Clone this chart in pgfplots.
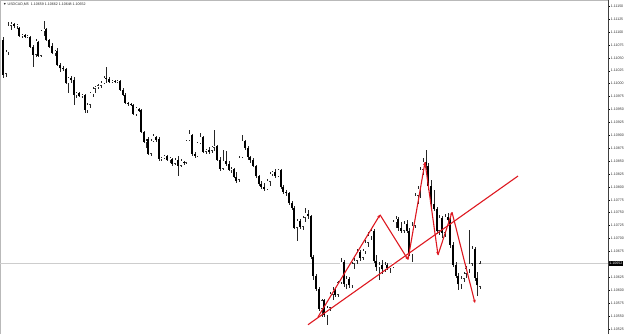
\documentclass[border=0pt]{standalone}
\usepackage{fontspec}
\setmainfont{Liberation Sans}
\usepackage{pgfplots}
\pgfplotsset{compat=1.18}
\usepackage{pgfplotstable}
\usetikzlibrary{arrows.meta}
\definecolor{mtred}{RGB}{222,24,32}
\definecolor{bidgray}{RGB}{205,205,205}

\pgfplotstableread{
x o h l c
3 1.11085 1.11090 1.11011 1.11017
6 1.11019 1.11065 1.11013 1.11061
8 1.11061 1.11119 1.11056 1.11112
11 1.11112 1.11119 1.11104 1.11116
14 1.11116 1.11117 1.11108 1.11112
17 1.11112 1.11116 1.11106 1.11114
19 1.11108 1.11110 1.11090 1.11092
22 1.11092 1.11096 1.11088 1.11094
25 1.11094 1.11096 1.11088 1.11090
27 1.11090 1.11094 1.11088 1.11092
30 1.11090 1.11092 1.11069 1.11071
33 1.11071 1.11075 1.11032 1.11056
36 1.11056 1.11087 1.11052 1.11083
38 1.11081 1.11083 1.11052 1.11054
41 1.11054 1.11104 1.11052 1.11102
44 1.11102 1.11121 1.11092 1.11106
46 1.11106 1.11108 1.11083 1.11085
49 1.11085 1.11087 1.11069 1.11071
52 1.11073 1.11079 1.11057 1.11059
55 1.11059 1.11065 1.11054 1.11063
57 1.11063 1.11069 1.11034 1.11036
60 1.11036 1.11040 1.11023 1.11030
63 1.11030 1.11034 1.11025 1.11029
66 1.11029 1.11030 1.10999 1.11001
68 1.11001 1.11013 1.10982 1.11011
71 1.11011 1.11015 1.11001 1.11007
74 1.11007 1.11013 1.10959 1.10978
76 1.10978 1.10984 1.10972 1.10982
79 1.10982 1.10984 1.10974 1.10976
82 1.10976 1.10980 1.10972 1.10978
85 1.10978 1.10980 1.10943 1.10949
87 1.10949 1.10963 1.10943 1.10959
90 1.10959 1.10984 1.10953 1.10982
93 1.10980 1.10994 1.10974 1.10990
95 1.10990 1.10996 1.10982 1.10994
98 1.10994 1.10999 1.10990 1.10997
101 1.10996 1.11005 1.10992 1.11001
104 1.11001 1.11015 1.10999 1.11011
106 1.11011 1.11032 1.11001 1.11009
109 1.11009 1.11013 1.11001 1.11003
112 1.11003 1.11007 1.11001 1.11005
115 1.11005 1.11007 1.11001 1.11003
117 1.11003 1.11007 1.11001 1.11005
120 1.11005 1.11007 1.10986 1.10988
123 1.10988 1.10992 1.10976 1.10978
125 1.10978 1.10982 1.10961 1.10963
128 1.10963 1.10965 1.10957 1.10961
131 1.10961 1.10963 1.10957 1.10959
133 1.10959 1.10961 1.10939 1.10941
136 1.10941 1.10955 1.10938 1.10953
139 1.10951 1.10953 1.10945 1.10947
141 1.10949 1.10951 1.10905 1.10907
144 1.10907 1.10909 1.10885 1.10887
146 1.10887 1.10893 1.10876 1.10889
148 1.10893 1.10897 1.10862 1.10864
151 1.10864 1.10893 1.10860 1.10889
153 1.10889 1.10903 1.10887 1.10899
156 1.10897 1.10899 1.10887 1.10891
159 1.10893 1.10897 1.10850 1.10854
161 1.10854 1.10858 1.10850 1.10856
164 1.10856 1.10862 1.10854 1.10860
167 1.10860 1.10862 1.10850 1.10852
170 1.10852 1.10858 1.10847 1.10856
172 1.10854 1.10856 1.10841 1.10845
175 1.10845 1.10856 1.10843 1.10852
178 1.10852 1.10860 1.10821 1.10841
181 1.10841 1.10854 1.10839 1.10850
184 1.10848 1.10850 1.10843 1.10846
186 1.10847 1.10891 1.10845 1.10889
189 1.10891 1.10910 1.10889 1.10903
192 1.10901 1.10903 1.10860 1.10864
195 1.10864 1.10868 1.10856 1.10860
197 1.10860 1.10887 1.10858 1.10885
200 1.10885 1.10905 1.10883 1.10897
203 1.10897 1.10899 1.10866 1.10868
206 1.10868 1.10874 1.10864 1.10872
209 1.10872 1.10878 1.10864 1.10868
212 1.10870 1.10880 1.10866 1.10878
214 1.10876 1.10910 1.10870 1.10880
217 1.10880 1.10881 1.10850 1.10852
220 1.10852 1.10858 1.10831 1.10835
223 1.10835 1.10872 1.10833 1.10850
226 1.10850 1.10870 1.10841 1.10845
229 1.10845 1.10850 1.10831 1.10833
231 1.10833 1.10839 1.10827 1.10835
234 1.10835 1.10837 1.10818 1.10820
236 1.10820 1.10829 1.10808 1.10812
239 1.10814 1.10860 1.10810 1.10856
242 1.10858 1.10901 1.10856 1.10889
245 1.10889 1.10891 1.10872 1.10876
248 1.10876 1.10880 1.10852 1.10858
250 1.10858 1.10860 1.10847 1.10852
253 1.10852 1.10856 1.10839 1.10841
256 1.10841 1.10843 1.10818 1.10821
259 1.10821 1.10823 1.10802 1.10806
261 1.10806 1.10812 1.10796 1.10800
264 1.10800 1.10808 1.10792 1.10796
267 1.10796 1.10816 1.10794 1.10812
270 1.10810 1.10829 1.10802 1.10825
272 1.10825 1.10831 1.10821 1.10829
275 1.10829 1.10835 1.10818 1.10821
278 1.10821 1.10835 1.10820 1.10833
281 1.10833 1.10835 1.10796 1.10800
283 1.10800 1.10804 1.10787 1.10791
286 1.10791 1.10794 1.10783 1.10789
289 1.10789 1.10791 1.10765 1.10769
292 1.10769 1.10773 1.10756 1.10760
294 1.10760 1.10763 1.10719 1.10721
297 1.10721 1.10738 1.10696 1.10734
300 1.10734 1.10738 1.10719 1.10723
303 1.10723 1.10744 1.10717 1.10740
305 1.10740 1.10760 1.10731 1.10750
308 1.10748 1.10756 1.10738 1.10744
311 1.10744 1.10746 1.10661 1.10665
313 1.10665 1.10669 1.10620 1.10628
316 1.10628 1.10632 1.10599 1.10603
319 1.10603 1.10607 1.10560 1.10564
322 1.10564 1.10583 1.10547 1.10580
324 1.10580 1.10583 1.10547 1.10551
327 1.10551 1.10570 1.10533 1.10566
330 1.10566 1.10597 1.10560 1.10593
333 1.10591 1.10607 1.10581 1.10601
335 1.10601 1.10603 1.10587 1.10591
338 1.10591 1.10618 1.10587 1.10615
341 1.10615 1.10663 1.10611 1.10655
344 1.10655 1.10659 1.10607 1.10611
346 1.10611 1.10628 1.10603 1.10622
349 1.10622 1.10626 1.10605 1.10609
352 1.10609 1.10655 1.10605 1.10651
354 1.10651 1.10663 1.10640 1.10657
357 1.10657 1.10680 1.10651 1.10674
360 1.10674 1.10678 1.10657 1.10663
363 1.10663 1.10680 1.10659 1.10676
365 1.10676 1.10698 1.10670 1.10692
368 1.10692 1.10713 1.10684 1.10705
371 1.10705 1.10721 1.10698 1.10715
374 1.10715 1.10719 1.10653 1.10657
376 1.10657 1.10669 1.10638 1.10644
379 1.10644 1.10655 1.10620 1.10649
382 1.10649 1.10659 1.10632 1.10640
385 1.10640 1.10655 1.10636 1.10649
387 1.10649 1.10653 1.10638 1.10642
390 1.10642 1.10647 1.10634 1.10645
393 1.10645 1.10736 1.10644 1.10732
396 1.10732 1.10744 1.10721 1.10738
398 1.10738 1.10742 1.10715 1.10721
401 1.10721 1.10731 1.10711 1.10715
404 1.10715 1.10734 1.10711 1.10729
407 1.10729 1.10736 1.10711 1.10715
409 1.10715 1.10721 1.10667 1.10670
412 1.10670 1.10731 1.10655 1.10725
415 1.10725 1.10789 1.10721 1.10783
418 1.10783 1.10802 1.10767 1.10796
420 1.10796 1.10839 1.10779 1.10833
423 1.10833 1.10856 1.10823 1.10848
426 1.10848 1.10872 1.10833 1.10843
428 1.10841 1.10847 1.10794 1.10802
431 1.10802 1.10814 1.10760 1.10767
434 1.10767 1.10794 1.10754 1.10758
437 1.10758 1.10761 1.10709 1.10715
439 1.10715 1.10746 1.10707 1.10740
442 1.10740 1.10744 1.10701 1.10711
445 1.10711 1.10748 1.10703 1.10742
448 1.10742 1.10750 1.10729 1.10736
450 1.10736 1.10740 1.10682 1.10688
453 1.10688 1.10694 1.10644 1.10649
456 1.10649 1.10655 1.10624 1.10628
458 1.10628 1.10634 1.10601 1.10611
461 1.10611 1.10628 1.10603 1.10622
464 1.10622 1.10636 1.10616 1.10632
466 1.10632 1.10647 1.10624 1.10642
469 1.10640 1.10717 1.10634 1.10651
472 1.10651 1.10686 1.10647 1.10680
475 1.10680 1.10684 1.10618 1.10624
477 1.10624 1.10636 1.10589 1.10609
480 1.10607 1.10657 1.10603 1.10652
}\candles

\begin{document}
\begin{tikzpicture}
\begin{axis}[
  scale only axis, width=608bp, height=334bp,
  xmin=0, xmax=608, ymin=1.10515, ymax=1.11162,
  axis line style={draw=gray!55, line width=0.7bp},
  xtick=\empty,
  ytick pos=right, yticklabel pos=right,
  ytick={1.10525,1.10550,1.10575,1.10600,1.10625,1.10675,1.10700,1.10725,1.10750,1.10775,1.10800,1.10825,1.10850,1.10875,1.10900,1.10925,1.10950,1.10975,1.11000,1.11025,1.11050,1.11075,1.11100,1.11125,1.11150},
  yticklabels={1.10525,1.10550,1.10575,1.10600,1.10625,1.10675,1.10700,1.10725,1.10750,1.10775,1.10800,1.10825,1.10850,1.10875,1.10900,1.10925,1.10950,1.10975,1.11000,1.11025,1.11050,1.11075,1.11100,1.11125,1.11150},
  tick align=outside, major tick length=2bp,
  tick style={draw=black, line width=0.4bp},
  yticklabel style={font=\fontsize{3.6}{4}\selectfont, inner sep=0.6bp, text=black!80},
  scaled y ticks=false,
]
\addplot[bidgray, line width=0.6bp, forget plot] coordinates {(0,1.10652) (608,1.10652)};
% wicks
\addplot[draw=none, forget plot, error bars/.cd, y dir=both, y explicit, error mark=none,
  error bar style={draw=black!85, line width=0.45bp}]
  table[x=x, y=o, y error plus expr=\thisrow{h}-\thisrow{o}, y error minus expr=\thisrow{o}-\thisrow{l}] {\candles};
% bear bodies
\addplot[draw=none, forget plot, restrict expr to domain={\thisrow{c}-\thisrow{o}}{-1:0},
  error bars/.cd, y dir=plus, y explicit, error mark=none,
  error bar style={draw=black, line width=1.8bp}]
  table[x=x, y=c, y error plus expr=\thisrow{o}-\thisrow{c}] {\candles};
% bull bodies: outline
\addplot[draw=none, forget plot, restrict expr to domain={\thisrow{c}-\thisrow{o}}{0:1},
  error bars/.cd, y dir=plus, y explicit, error mark=none,
  error bar style={draw=black!80, line width=1.7bp}]
  table[x=x, y=o, y error plus expr=\thisrow{c}-\thisrow{o}] {\candles};
% bull bodies: white inside
\addplot[draw=none, forget plot, restrict expr to domain={\thisrow{c}-\thisrow{o}}{0:1},
  error bars/.cd, y dir=plus, y explicit, error mark=none,
  error bar style={draw=white, line width=1.1bp, shorten >=0.35bp, shorten <=0.35bp}]
  table[x=x, y=o, y error plus expr=\thisrow{c}-\thisrow{o}] {\candles};
% trend line
\addplot[mtred, line width=1.1bp, forget plot] coordinates {(308,1.10533) (518,1.10821)};
% zigzag
\addplot[mtred, line width=1.1bp, forget plot, -{Stealth[length=3.2bp,width=3bp]}] coordinates {(318,1.10548) (380,1.10746)};
\addplot[mtred, line width=1.1bp, forget plot, -{Stealth[length=3.2bp,width=3bp]}] coordinates {(380,1.10746) (408,1.10659)};
\addplot[mtred, line width=1.1bp, forget plot, -{Stealth[length=3.2bp,width=3bp]}] coordinates {(408,1.10659) (425,1.10848)};
\addplot[mtred, line width=1.1bp, forget plot, -{Stealth[length=3.2bp,width=3bp]}] coordinates {(425,1.10848) (438,1.10668)};
\addplot[mtred, line width=1.1bp, forget plot, -{Stealth[length=3.2bp,width=3bp]}] coordinates {(438,1.10668) (452,1.10751)};
\addplot[mtred, line width=1.1bp, forget plot, -{Stealth[length=3.2bp,width=3bp]}] coordinates {(452,1.10751) (475,1.10575)};
\coordinate (pb) at (axis cs:608,1.10652);
\coordinate (rt) at (axis cs:608,1.11162);
\coordinate (rb) at (axis cs:608,1.10515);
\end{axis}
\draw[black!75, line width=0.6bp] (rb) -- (rt);
\node[fill=black, text=white, font=\fontsize{3.6}{4}\selectfont, inner xsep=0.9bp, inner ysep=1bp, anchor=west] at ([xshift=0.3bp]pb) {1.10652};
\node[anchor=north west, font=\fontsize{3.6}{4}\selectfont, inner sep=0pt, text=black!85] at ([xshift=3bp,yshift=-2.6bp]current axis.north west) {▼\ USDCAD,M5\ \ 1.10659 1.10662 1.10648 1.10652};
\pgfresetboundingbox
\path[use as bounding box] (current axis.south west) rectangle ([xshift=17bp]current axis.north east);
\end{tikzpicture}
\end{document}
